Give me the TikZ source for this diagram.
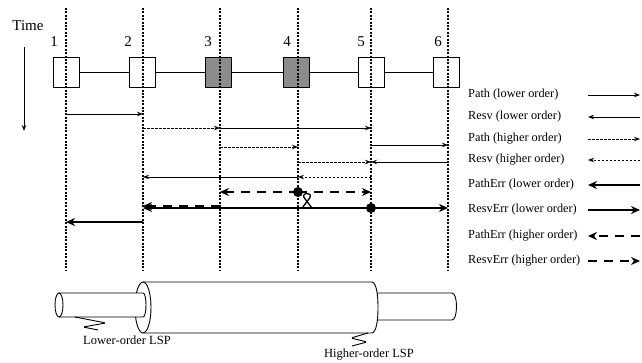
\documentclass[tikz,border=0pt]{standalone}
\usepackage{fontspec}
\setmainfont{Liberation Serif}
\usetikzlibrary{arrows.meta}
\begin{document}
\begin{tikzpicture}[x=1pt,y=-1pt,
  vline/.style={line width=1.1pt, dash pattern=on 2pt off 1.4pt},
  boxn/.style={draw, line width=0.8pt, fill=white, minimum width=26pt, minimum height=30pt, inner sep=0pt},
  shadedbox/.style={boxn, fill=black!45},
  lo/.style={line width=0.9pt, -{Stealth[length=6pt,width=4.5pt]}},
  hi/.style={lo, dash pattern=on 2.5pt off 1.5pt},
  elo/.style={line width=2.6pt, -{Stealth[length=9pt,width=8pt]}},
  ehi/.style={elo, dash pattern=on 9pt off 7pt},
  lab/.style={font=\fontsize{12.3}{13}\selectfont, inner sep=0pt, anchor=west},
  big/.style={font=\fontsize{15}{16}\selectfont, inner sep=0pt},
  cab/.style={line width=0.9pt, fill=white},
]
\useasboundingbox (0,0) rectangle (642,363);
% time axis
\node[big] (time) at (28,26) {Time};
\coordinate (ta) at (24,47);
\coordinate (tb) at (24,131);
\draw[line width=0.9pt, -{Stealth[length=6pt,width=4.5pt]}] (ta) -- (tb);
% nodes (boxes)
\node[boxn] (b1) at (66,72) {};
\node[boxn] (b2) at (142,72) {};
\node[shadedbox] (b3) at (218,72) {};
\node[shadedbox] (b4) at (296,72) {};
\node[boxn] (b5) at (371,72) {};
\node[boxn] (b6) at (446,72) {};
\draw[line width=0.8pt] (b1) -- (b2) (b2) -- (b3) (b3) -- (b4) (b4) -- (b5) (b5) -- (b6);
\node[big] (n1) at (54,42) {1};
\node[big] (n2) at (128,42) {2};
\node[big] (n3) at (208,42) {3};
\node[big] (n4) at (287,42) {4};
\node[big] (n5) at (361,42) {5};
\node[big] (n6) at (438,42) {6};
% vertical time lines
\foreach \i/\x in {1/66,2/143,3/220,4/298,5/371,6/448}{
  \coordinate (t\i) at (\x,8);
  \coordinate (u\i) at (\x,270);
  \draw[vline] (t\i) -- (u\i);
}
% rows
\foreach \i/\y in {1/114,2/128,3/145,4/147,5/162,6/177,7/192,8/208,9/222,10/206}{
  \coordinate (r\i) at (0,\y);
}
% messages
\draw[lo] (t1 |- r1) -- (t2 |- r1);
\draw[hi] (t2 |- r2) -- (t3 |- r2);
\draw[lo] (t3 |- r2) -- (t5 |- r2);
\draw[lo] (t5 |- r3) -- (t6 |- r3);
\draw[hi] (t3 |- r4) -- (t4 |- r4);
\draw[hi] (t4 |- r5) -- (t5 |- r5);
\draw[lo] (t6 |- r5) -- (t5 |- r5);
\draw[hi] (t5 |- r6) -- (t4 |- r6);
\draw[lo] (t4 |- r6) -- (t2 |- r6);
\draw[ehi] (t4 |- r7) -- (t3 |- r7);
\draw[ehi] (t4 |- r7) -- (t5 |- r7);
\draw[elo] (t5 |- r8) -- (t2 |- r8);
\draw[ehi] (t3 |- r10) -- (t2 |- r10);
\draw[elo] (t5 |- r8) -- (t6 |- r8);
\draw[elo] (t2 |- r9) -- (t1 |- r9);
\fill (t4 |- r7) circle (5);
\fill (t5 |- r8) circle (5);
% failure mark
\draw[line width=1.3pt] (302.5,207.5) -- (310,197.5) .. controls (312.5,192) and (301.5,192) .. (304,197.5) -- (311.5,207.5);
% legend
\foreach \i/\y/\t in {1/95/Path (lower order),2/117/Resv (lower order),3/139/Path (higher order),4/160/Resv (higher order),5/185/PathErr (lower order),6/210/ResvErr (lower order),7/236/PathErr (higher order),8/261/ResvErr (higher order)}{
  \node[lab] (lt\i) at (468,\y) {\t};
  \coordinate (la\i) at (588,\y);
  \coordinate (lb\i) at (640,\y);
}
\draw[lo] (la1) -- (lb1);
\draw[lo] (lb2) -- (la2);
\draw[hi] (la3) -- (lb3);
\draw[hi] (lb4) -- (la4);
\draw[elo] (lb5) -- (la5);
\draw[elo] (la6) -- (lb6);
\draw[ehi] (lb7) -- (la7);
\draw[ehi] (la8) -- (lb8);
% cable
\draw[cab] (370,293) -- (452,293) .. controls (458,293) and (458,320) .. (452,320) -- (370,320);
\draw[cab] (143,282) -- (372,282) .. controls (376.5,283) and (378,295) .. (378,307.5) .. controls (378,320) and (376.5,332) .. (372,333) -- (143,333) -- cycle;
\draw[cab] (143,307.5) ellipse [x radius=8, y radius=25.5];
\draw[cab] (59,293) -- (143,293) .. controls (147,293) and (147,317) .. (143,317) -- (59,317);
\draw[cab] (59,305) ellipse [x radius=4, y radius=12];
\draw[line width=0.9pt, rounded corners=1.5pt] (75,317) -- (106,323) -- (83,327) -- (98,330);
\draw[line width=0.9pt, rounded corners=1.5pt] (368,333) -- (351,338) -- (367,342) -- (352,346);
\node[font=\fontsize{12.5}{14}\selectfont, inner sep=0pt] (lower) at (127,340) {Lower-order LSP};
\node[font=\fontsize{12.5}{14}\selectfont, inner sep=0pt] (higher) at (369,355) {Higher-order LSP};
\end{tikzpicture}
\end{document}
